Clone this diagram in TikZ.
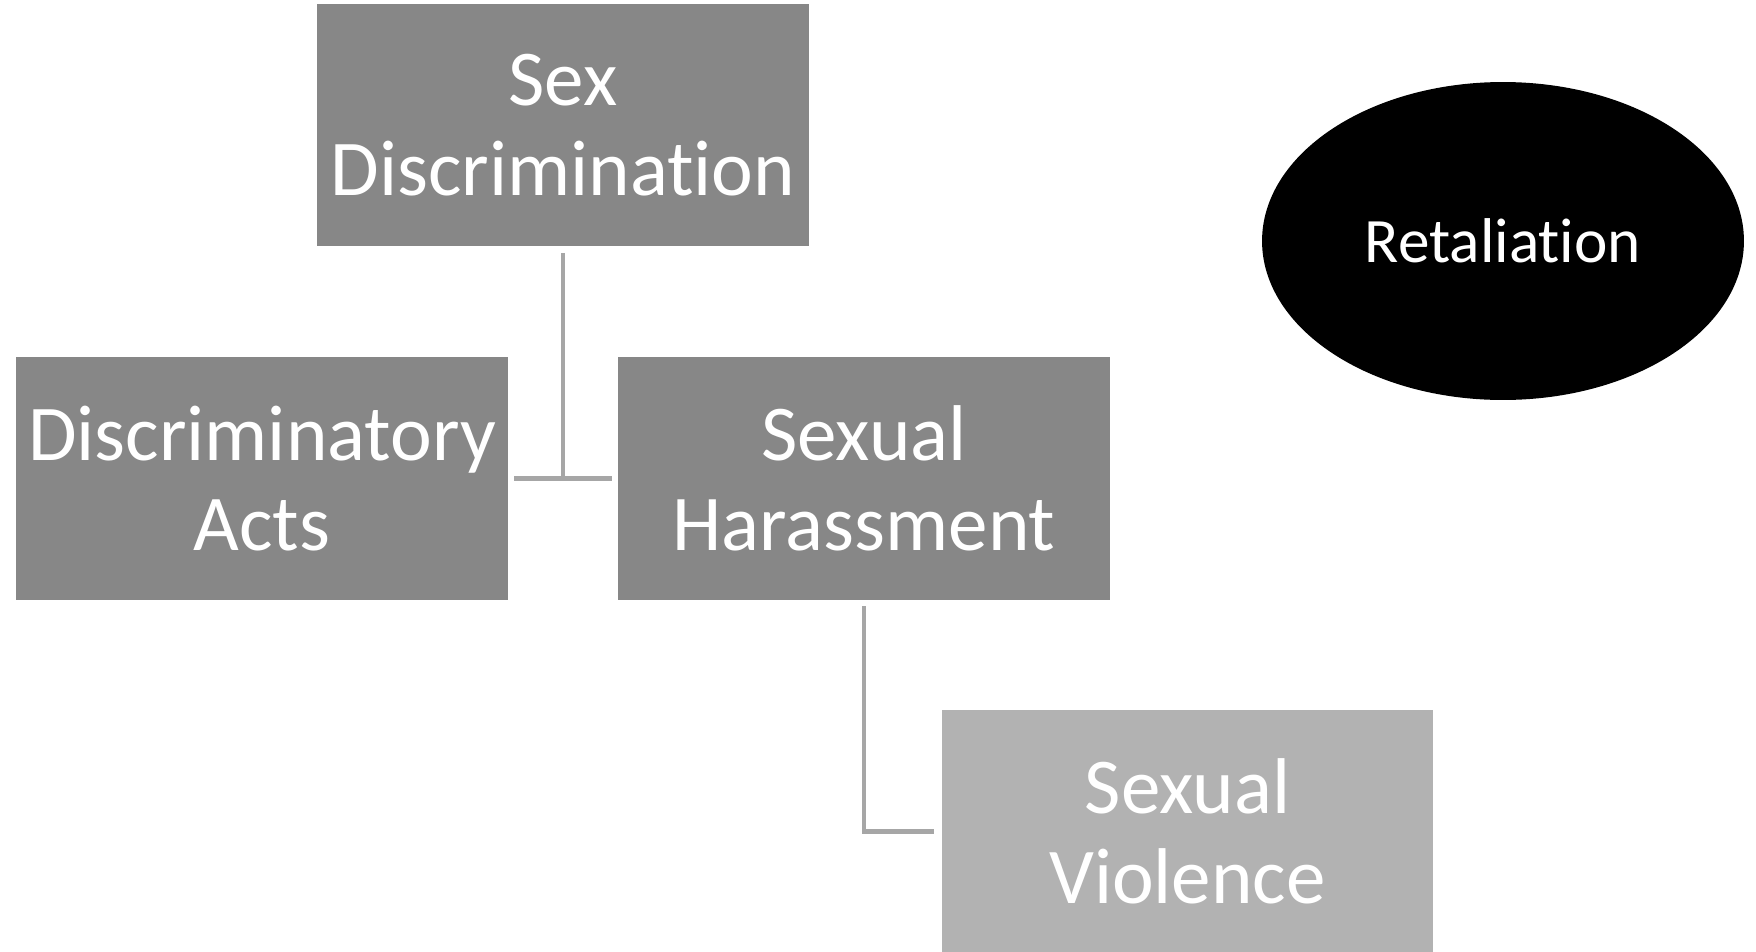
\documentclass[tikz,border=0pt]{standalone}
\usepackage{fontspec}
\setmainfont{Carlito}[Ligatures=NoCommon]
\usepackage{tikz}
\usetikzlibrary{positioning, shapes.geometric, calc}

\definecolor{boxdark}{HTML}{878787}
\definecolor{boxlight}{HTML}{B2B2B2}
\definecolor{linkgray}{HTML}{A6A6A6}

\tikzset{
    catbox/.style={rectangle, fill=boxdark, text=white, align=center,
        minimum width=9.84cm, minimum height=4.86cm, inner sep=0pt,
        font=\fontsize{45}{51}\selectfont},
    subbox/.style={catbox, fill=boxlight},
    link/.style={linkgray, line width=2.3pt}
}

\begin{document}
\begin{tikzpicture}[x=0.02cm, y=-0.02cm]
    \useasboundingbox (0,0) rectangle (1756,951);

    % main categories
    \node[catbox] (sexdisc) at (563,125) {Sex\\Discrimination};
    \node[catbox] (discacts) at (262,478.5) {Discriminatory\\Acts};
    \node[catbox] (sexharass) at (864,478.5) {Sexual\\Harassment};
    \node[subbox] (sexviol) at (1187.5,831.5) {Sexual\\Violence};

    % stand-alone
    \node[ellipse, fill=black, text=white, minimum width=9.64cm, minimum height=6.36cm,
        inner sep=0pt, font=\fontsize{36}{43}\selectfont] (retal) at (1503,241) {Retaliation};

    % connectors
    \draw[link] ([yshift=-3.5pt]sexdisc.south) -- (sexdisc.south |- discacts.east);
    \draw[link] ([xshift=3.5pt]discacts.east) -- ([xshift=-3pt]sexharass.west);
    \draw[link] ([yshift=-3.5pt]sexharass.south) |- ([xshift=-4pt]sexviol.west);
\end{tikzpicture}
\end{document}
